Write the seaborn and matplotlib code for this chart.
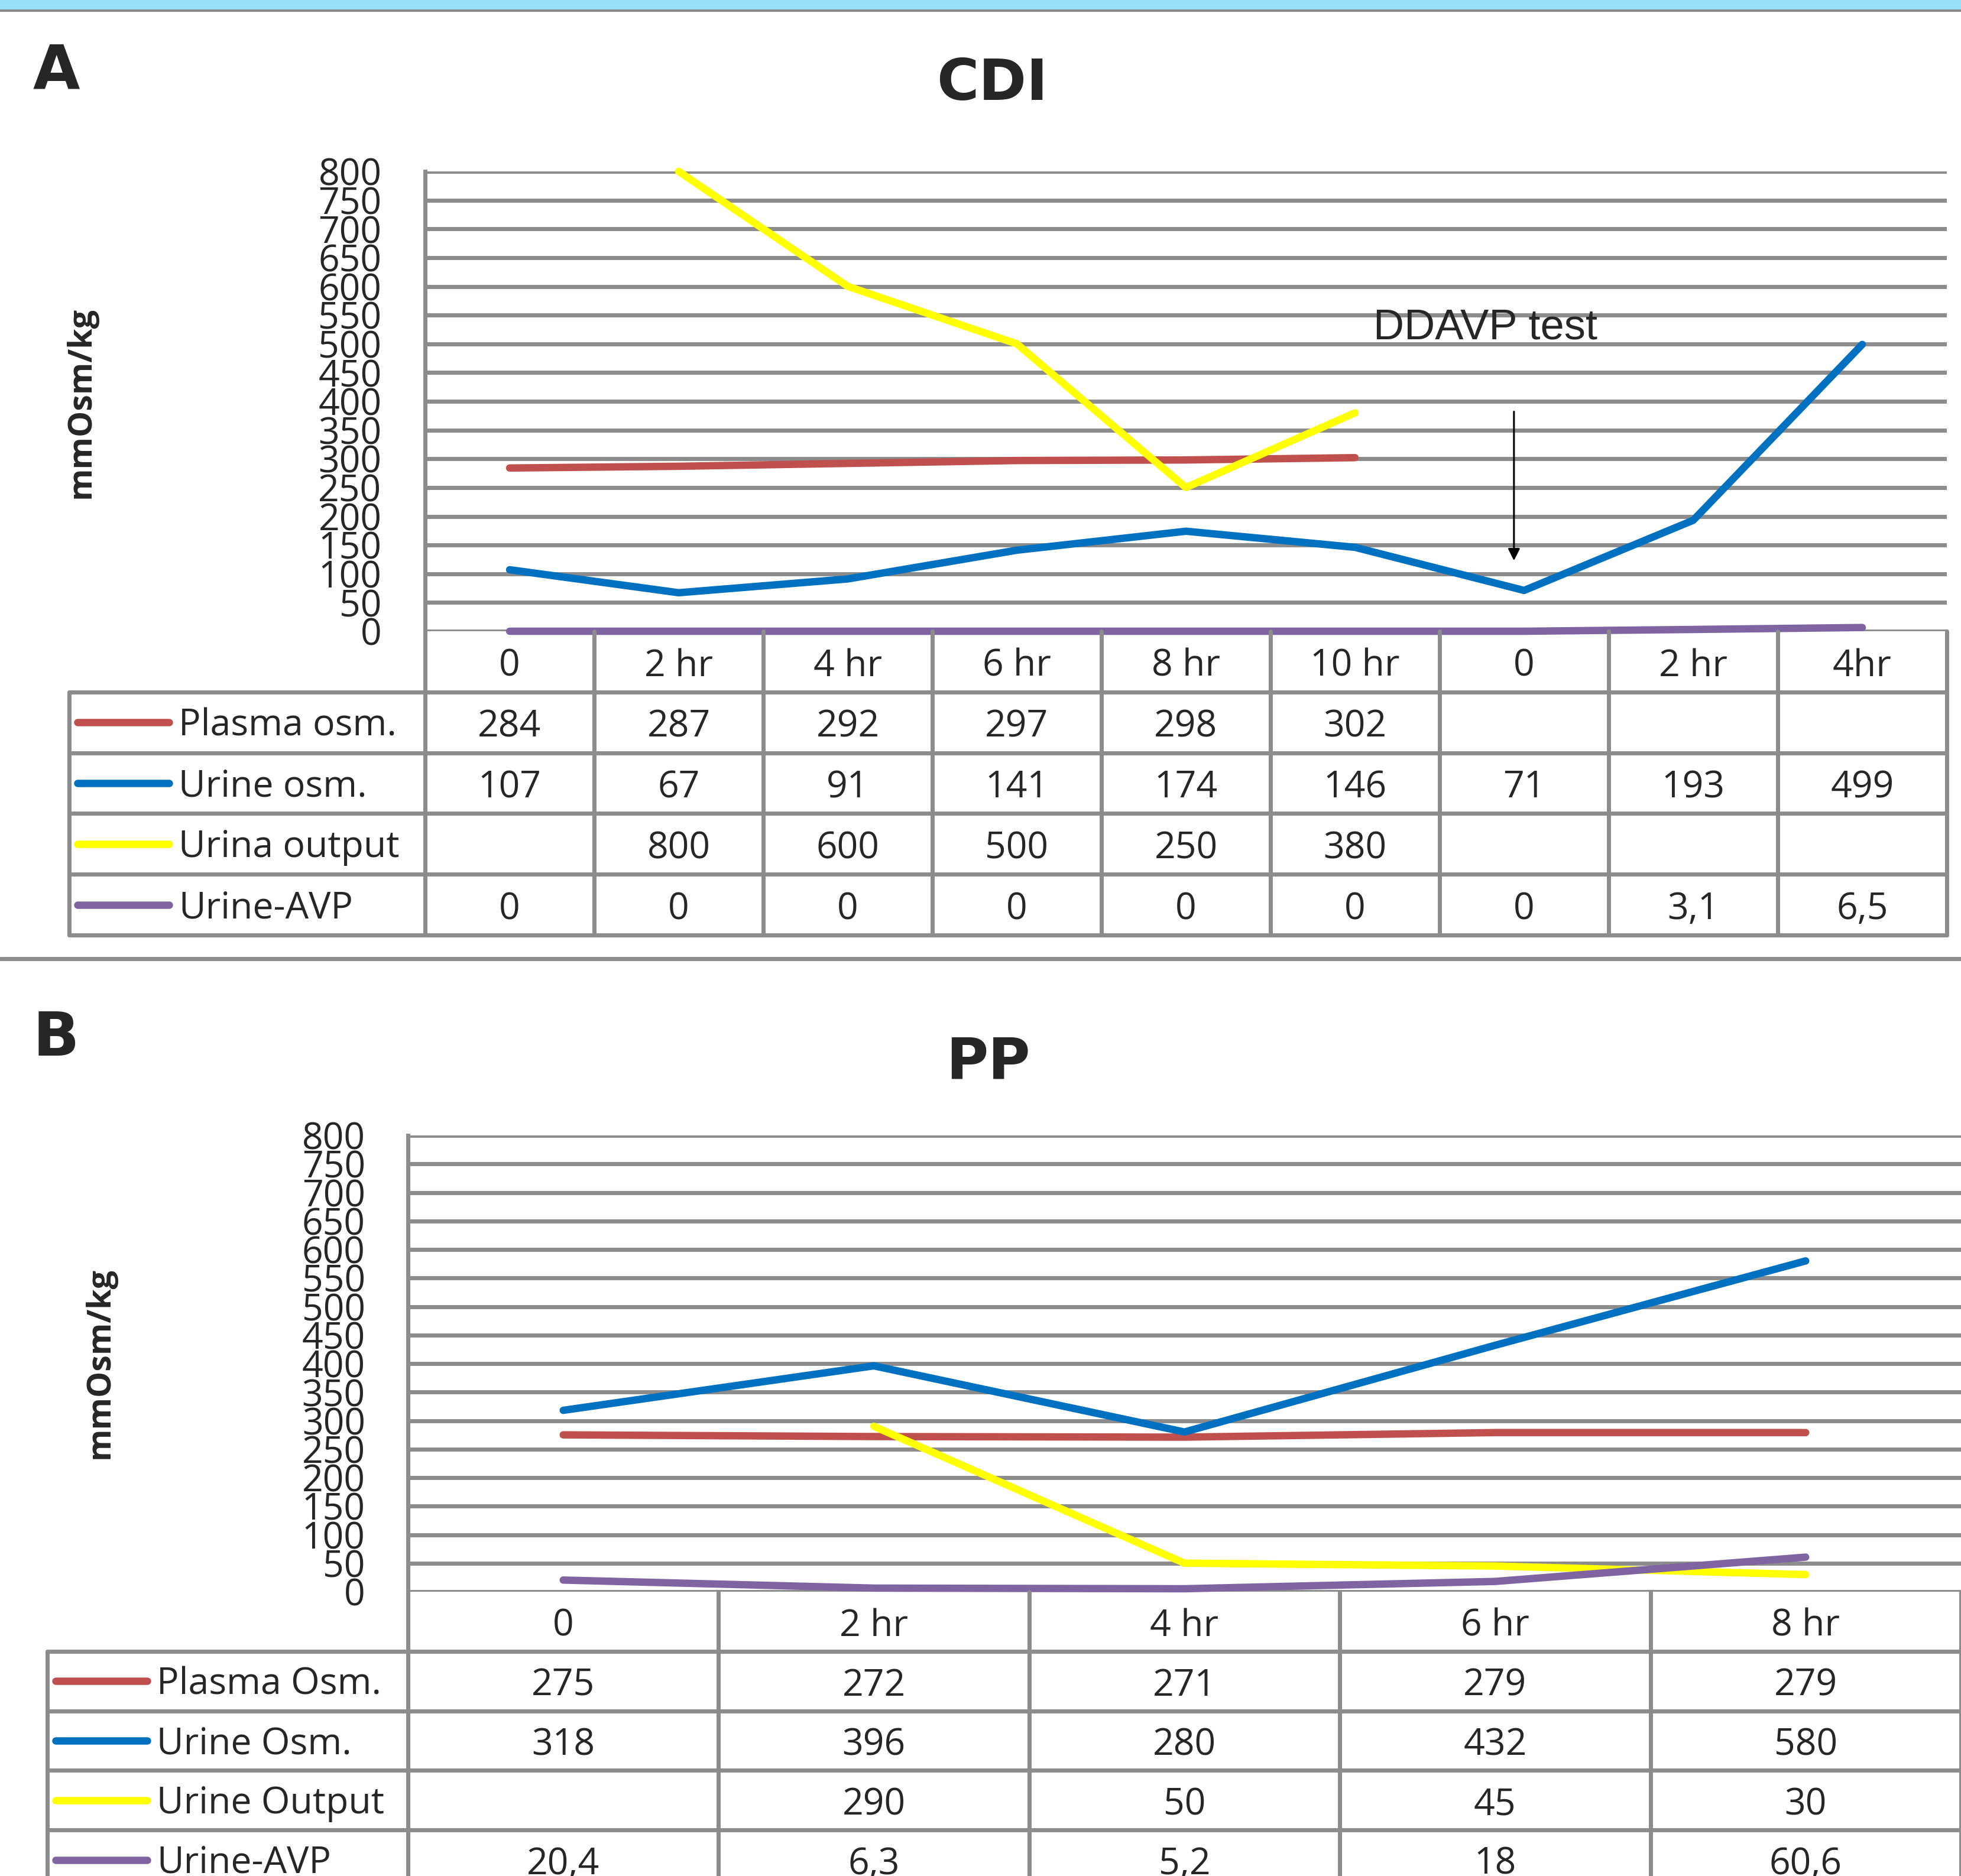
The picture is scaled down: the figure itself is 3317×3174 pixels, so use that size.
import numpy as np
import pandas as pd
import matplotlib.pyplot as plt
from matplotlib.patches import Rectangle
from matplotlib.lines import Line2D
import seaborn as sns

sns.set_style('white')
plt.rcParams['font.family'] = ['Open Sans', 'DejaVu Sans']

# panel A - CDI
cdi_times = ['0', '2 hr', '4 hr', '6 hr', '8 hr', '10 hr', '0', '2 hr', '4hr']
cdi_series = ['Plasma osm.', 'Urine osm.', 'Urina output', 'Urine-AVP']
cdi_plasma = [284, 287, 292, 297, 298, 302, np.nan, np.nan, np.nan]
cdi_urine = [107, 67, 91, 141, 174, 146, 71, 193, 499]
cdi_output = [np.nan, 800, 600, 500, 250, 380, np.nan, np.nan, np.nan]
cdi_avp = [0, 0, 0, 0, 0, 0, 0, 3.1, 6.5]

# panel B - PP
pp_times = ['0', '2 hr', '4 hr', '6 hr', '8 hr']
pp_series = ['Plasma Osm.', 'Urine Osm.', 'Urine Output', 'Urine-AVP']
pp_plasma = [275, 272, 271, 279, 279]
pp_urine = [318, 396, 280, 432, 580]
pp_output = [np.nan, 290, 50, 45, 30]
pp_avp = [20.4, 6.3, 5.2, 18, 60.6]

colors = ['#C0504D', '#0070C0', '#FFFF00', '#8064A2']
GRID = '#8C8C8C'
W, H = 3317, 3174
FS = 45
LW = 9


def box(x0, y0, x1, y1):
    return [x0 / W, 1 - y1 / H, (x1 - x0) / W, (y1 - y0) / H]


def fmt(v):
    if float(v).is_integer():
        return str(int(v))
    return str(v).replace('.', ',')


def draw_panel(fig, times, series, values, plot_px, table_bottom, legend_left, tick_pad):
    x0, y0, x1, y1 = plot_px
    n = len(times)

    ax = fig.add_axes(box(x0, y0, x1, y1))
    df = pd.DataFrame({
        'pos': np.tile(np.arange(n), len(series)),
        'value': np.concatenate([np.asarray(v, dtype=float) for v in values]),
        'series': np.repeat(series, n),
    }).dropna()
    sns.lineplot(data=df, x='pos', y='value', hue='series', hue_order=series,
                 palette=dict(zip(series, colors)), linewidth=LW,
                 legend=False, sort=False, ax=ax)
    for line in ax.lines:
        line.set_solid_capstyle('round')
        line.set_clip_on(False)

    ax.set_xlim(-0.5, n - 0.5)
    ax.set_ylim(0, 800)
    ax.set_yticks(range(0, 801, 50))
    ax.set_xticks([])
    ax.set_xlabel('')
    ax.set_ylabel('')
    ax.set_axisbelow(True)
    ax.yaxis.grid(True, color=GRID, lw=5)
    ax.tick_params(axis='y', length=0, pad=tick_pad, labelsize=FS)
    for side in ['top', 'right', 'bottom']:
        ax.spines[side].set_visible(False)
    ax.spines['left'].set_color(GRID)
    ax.spines['left'].set_linewidth(5)

    # data table under the plot
    tx = fig.add_axes(box(legend_left, y1, x1, table_bottom))
    unit = (x1 - x0) / n
    xl = -0.5 - (x0 - legend_left) / unit
    tx.set_xlim(xl, n - 0.5)
    tx.set_ylim(5, 0)
    tx.axis('off')
    for k in range(n + 1):
        tx.plot([k - 0.5, k - 0.5], [0, 5], color=GRID, lw=5, clip_on=False)
    tx.plot([xl, xl], [1, 5], color=GRID, lw=5, clip_on=False)
    for r in range(1, 6):
        tx.plot([xl, n - 0.5], [r, r], color=GRID, lw=5, clip_on=False)
    for i, t in enumerate(times):
        tx.text(i, 0.58, t, ha='center', va='center', fontsize=FS)
    for r, (name, vals, c) in enumerate(zip(series, values, colors), start=1):
        tx.plot([xl + 14 / unit, xl + 169 / unit], [r + 0.5, r + 0.5], color=c,
                lw=LW, solid_capstyle='round')
        tx.text(xl + 185 / unit, r + 0.56, name, ha='left', va='center', fontsize=FS)
        for i, v in enumerate(vals):
            if not np.isnan(v):
                tx.text(i, r + 0.58, fmt(v), ha='center', va='center', fontsize=FS)
    return ax


fig = plt.figure(figsize=(W / 100, H / 100), dpi=100)

# top band and separator
fig.add_artist(Rectangle((0, 1 - 16 / H), 1, 16 / H, transform=fig.transFigure,
                         color='#99DFF7', lw=0))
fig.add_artist(Line2D([0, 1], [1 - 18 / H] * 2, transform=fig.transFigure, color=GRID, lw=3))
fig.add_artist(Line2D([0, 1], [1 - 1622 / H] * 2, transform=fig.transFigure, color=GRID, lw=5))

ax_a = draw_panel(fig, cdi_times, cdi_series, [cdi_plasma, cdi_urine, cdi_output, cdi_avp],
                  (719, 290, 3293, 1068), 1582, 117, 53)
ax_a.annotate('', xy=(5.94, 120), xytext=(5.94, 385),
              arrowprops=dict(arrowstyle='-|>', color='black', lw=2.2, mutation_scale=30))
ax_a.text(5.77, 528, 'DDAVP test', ha='center', va='center', fontsize=52,
          family='Liberation Sans')

draw_panel(fig, pp_times, pp_series, [pp_plasma, pp_urine, pp_output, pp_avp],
           (690, 1921, 3317, 2693), 3197, 80, 52)

for letter, title, lxy, txy, yl in [('A', 'CDI', (95, 122), (1678, 142), (137, 681)),
                                    ('B', 'PP', (95, 1758), (1671, 1798), (169, 2306))]:
    fig.text(lxy[0] / W, 1 - lxy[1] / H, letter, ha='center', va='center',
             fontsize=74, fontweight='bold', family='DejaVu Sans')
    fig.text(txy[0] / W, 1 - txy[1] / H, title, ha='center', va='center',
             fontsize=70, fontweight='bold', family='DejaVu Sans')
    fig.text(yl[0] / W, 1 - yl[1] / H, 'mmOsm/kg', ha='center', va='center',
             rotation=90, fontsize=40, fontweight='bold')

fig.savefig('out.png', dpi=100)
